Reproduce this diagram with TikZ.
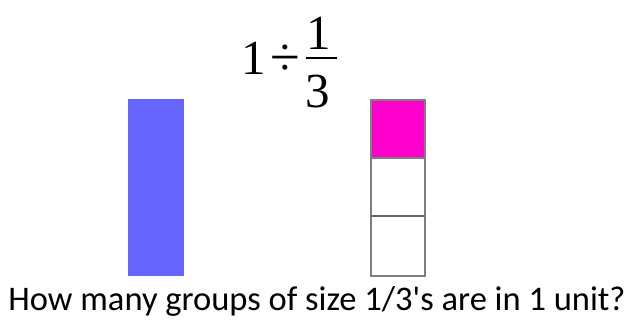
\documentclass[tikz,border=0pt]{standalone}
\usepackage{fontspec}
\setmainfont{Liberation Serif}
\newfontfamily\bodyfont{Carlito}
\definecolor{barblue}{HTML}{6666FF}
\definecolor{mag}{HTML}{FF00CC}
\definecolor{edge}{HTML}{7F7F7F}
\begin{document}
\begin{tikzpicture}[x=1pt,y=1pt,
  cell/.style={draw=edge,line width=1.2pt},
  digit/.style={inner sep=0pt,anchor=base,font=\fontsize{49}{49}\selectfont}]
\useasboundingbox (0,0) rectangle (638,322);
% expression
\node[digit] (one) at (254,247) {1};
\node[digit,font=\fontsize{54}{54}\selectfont] (div) at (285,246) {÷};
\node[digit] (num) at (319,272) {1};
\node[digit] (den) at (318,214) {3};
\coordinate (barL) at (306,264);
\coordinate (barR) at (337,264);
\draw[line width=1.6pt] (barL) -- (barR);
% blue bar
\fill[barblue] (128,46) rectangle (184,223);
% thirds
\fill[mag] (371,164) rectangle (425,222);
\draw[cell] (371,46) rectangle (425,222);
\draw[cell] (371,164) -- (425,164);
\draw[cell,draw=edge!80!black] (371,106) -- (425,106);
% question
\node[inner sep=0pt,anchor=base,font=\bodyfont\fontsize{34.5}{34.5}\selectfont] (q) at (317,12) {How many groups of size 1/3's are in 1 unit?};
\end{tikzpicture}
\end{document}
